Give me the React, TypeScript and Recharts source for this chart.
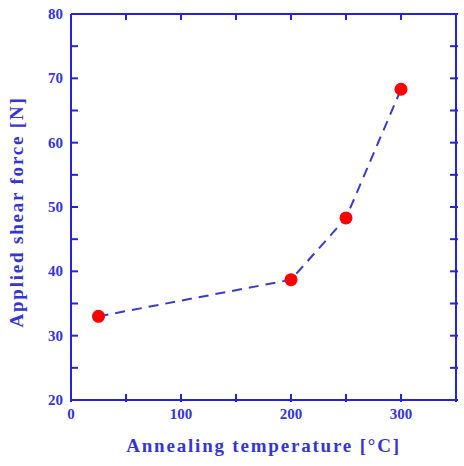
import { ComposedChart, Line, Scatter, XAxis, YAxis } from 'recharts';

const temperatures = [25, 200, 250, 300];
const shearForce = [33.0, 38.7, 48.3, 68.3];
const xTicks = [0, 50, 100, 150, 200, 250, 300, 350];
const yTicks = [20, 25, 30, 35, 40, 45, 50, 55, 60, 65, 70, 75, 80];

const data = temperatures.map((t, i) => ({ t, f: shearForce[i] }));

const AXIS = '#2424dc';
const TEXT = '#3535d6';
const FONT = '"Liberation Serif", "DejaVu Serif", serif';
const TICK_LEN = 6;
const MARGIN = 8;

// eslint-disable-next-line @typescript-eslint/no-explicit-any
function BottomTick(props: any) {
  const { x, y, payload } = props;
  const axisY = y - MARGIN;
  const v = payload.value;
  return (
    <g>
      <line x1={x} x2={x} y1={axisY + 2} y2={axisY - TICK_LEN} stroke={AXIS} strokeWidth={2} />
      {v % 100 === 0 && v < 350 && (
        <text x={x} y={axisY + 19} textAnchor="middle" fill={TEXT} fontFamily={FONT} fontWeight="bold" fontSize={15}>
          {v}
        </text>
      )}
    </g>
  );
}

// eslint-disable-next-line @typescript-eslint/no-explicit-any
function TopTick(props: any) {
  const { x, y } = props;
  return <line x1={x} x2={x} y1={y} y2={y + TICK_LEN} stroke={AXIS} strokeWidth={2} />;
}

// eslint-disable-next-line @typescript-eslint/no-explicit-any
function LeftTick(props: any) {
  const { x, y, payload } = props;
  const axisX = x + MARGIN;
  const v = payload.value;
  return (
    <g>
      <line x1={axisX} x2={axisX + TICK_LEN + 1} y1={y} y2={y} stroke={AXIS} strokeWidth={2} />
      {v % 10 === 0 && (
        <text x={axisX - 8} y={y + 5} textAnchor="end" fill={TEXT} fontFamily={FONT} fontWeight="bold" fontSize={15}>
          {v}
        </text>
      )}
    </g>
  );
}

// eslint-disable-next-line @typescript-eslint/no-explicit-any
function RightTick(props: any) {
  const { x, y } = props;
  return <line x1={x + 2} x2={x - TICK_LEN} y1={y} y2={y} stroke={AXIS} strokeWidth={2} />;
}

// eslint-disable-next-line @typescript-eslint/no-explicit-any
function Dot(props: any) {
  const { cx, cy } = props;
  return <circle cx={cx} cy={cy} r={6.5} fill="#ff0000" />;
}

function YLabel() {
  return (
    <text
      transform="translate(23,212) rotate(-90)"
      textAnchor="middle"
      fill={TEXT}
      fontFamily={FONT}
      fontWeight="bold"
      fontSize={19}
      letterSpacing={1.8}
    >
      Applied shear force [N]
    </text>
  );
}

export default function App() {
  return (
    <div style={{ position: 'absolute', left: 0, top: 0, background: '#fff' }}>
      <ComposedChart width={464} height={466} data={data} margin={{ top: 13, right: 7, bottom: 0, left: 0 }}>
        <XAxis
          dataKey="t"
          type="number"
          domain={[0, 350]}
          ticks={xTicks}
          interval={0}
          allowDataOverflow
          height={66}
          tickSize={0}
          tickMargin={MARGIN}
          tick={<BottomTick />}
          axisLine={{ stroke: AXIS, strokeWidth: 2 }}
          label={{
            value: 'Annealing temperature [°C]',
            position: 'insideBottom',
            offset: 14,
            fill: TEXT,
            fontFamily: FONT,
            fontWeight: 'bold',
            fontSize: 19,
            letterSpacing: 1.8,
          }}
        />
        <XAxis
          xAxisId="top"
          dataKey="t"
          orientation="top"
          type="number"
          domain={[0, 350]}
          ticks={xTicks}
          interval={0}
          allowDataOverflow
          height={1}
          tickSize={0}
          tickMargin={0}
          tick={<TopTick />}
          axisLine={{ stroke: AXIS, strokeWidth: 2 }}
        />
        <YAxis
          type="number"
          domain={[20, 80]}
          ticks={yTicks}
          interval={0}
          allowDataOverflow
          width={71}
          tickSize={0}
          tickMargin={MARGIN}
          tick={<LeftTick />}
          axisLine={{ stroke: AXIS, strokeWidth: 2 }}
          label={{ content: <YLabel /> }}
        />
        <YAxis
          yAxisId="right"
          orientation="right"
          type="number"
          domain={[20, 80]}
          ticks={yTicks}
          interval={0}
          allowDataOverflow
          width={1}
          tickSize={0}
          tickMargin={0}
          tick={<RightTick />}
          axisLine={{ stroke: AXIS, strokeWidth: 2 }}
        />
        {/* invisible series so the mirrored top/right axes get drawn */}
        <Line
          xAxisId="top"
          yAxisId="right"
          dataKey="f"
          stroke="none"
          dot={false}
          activeDot={false}
          isAnimationActive={false}
        />
        <Line
          dataKey="f"
          type="linear"
          stroke="#3a3acc"
          strokeWidth={2}
          strokeDasharray="10 7"
          dot={false}
          isAnimationActive={false}
        />
        <Scatter dataKey="f" fill="#ff0000" shape={<Dot />} isAnimationActive={false} />
      </ComposedChart>
    </div>
  );
}
